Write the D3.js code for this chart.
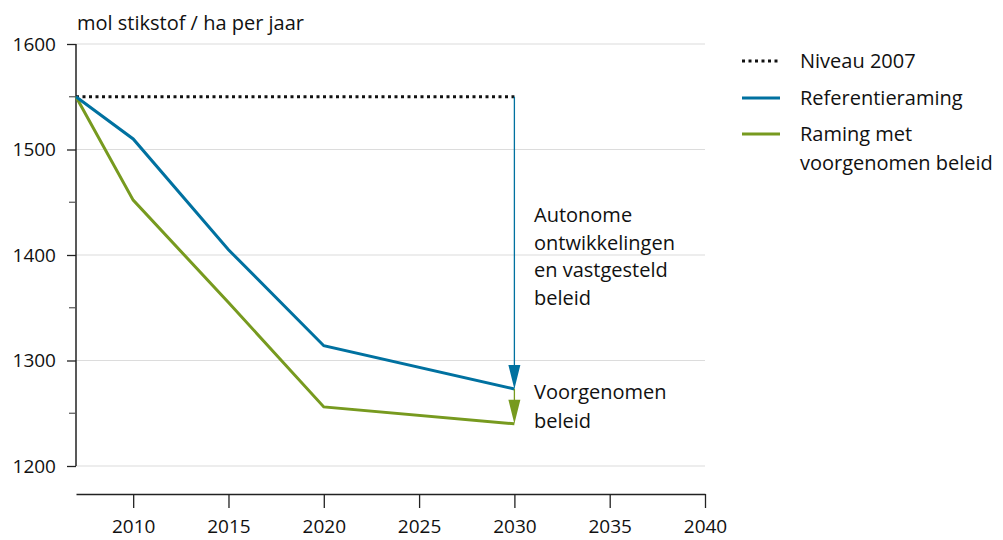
<!DOCTYPE html>
<html>
<head>
<meta charset="utf-8">
<script src="https://cdnjs.cloudflare.com/ajax/libs/d3/7.8.5/d3.min.js"></script>
<style>
  body { margin: 0; background: #fff; }
  svg text { font-family: "Open Sans", "Noto Sans", sans-serif; fill: #111; }
</style>
</head>
<body>
<div id="chart"></div>
<script>
// data
var years = [2007, 2010, 2015, 2020, 2030];
var referentie = [1550, 1510, 1405, 1314, 1273];
var voorgenomen = [1550, 1452, 1355, 1256, 1240];
var niveau2007 = 1550;
var niveauYears = [2007, 2030];
var yTicks = [1200, 1300, 1400, 1500, 1600];
var yMinorTicks = [1250, 1350, 1450, 1550];
var xTicks = [2010, 2015, 2020, 2025, 2030, 2035, 2040];
var legendItems = [
  {label: ["Niveau 2007"], color: "#111", dash: "3,3.5"},
  {label: ["Referentieraming"], color: "#0071a0", dash: null},
  {label: ["Raming met", "voorgenomen beleid"], color: "#779a1f", dash: null}
];
var blue = "#0071a0", green = "#779a1f";

var W = 1003, H = 540;
var margin = {top: 44, right: 298, bottom: 74, left: 76};
var width = W - margin.left - margin.right;
var height = H - margin.top - margin.bottom;

var svg = d3.select("#chart").append("svg").attr("width", W).attr("height", H);

var x = d3.scaleLinear().domain([2007, 2040]).range([margin.left, margin.left + width]);
var y = d3.scaleLinear().domain([1200, 1600]).range([margin.top + height, margin.top]);

// gridlines
svg.append("g").selectAll("line").data(yTicks).enter().append("line")
  .attr("x1", x(2007)).attr("x2", x(2040))
  .attr("y1", function(d) { return y(d); }).attr("y2", function(d) { return y(d); })
  .attr("stroke", "#dcdcdc").attr("stroke-width", 1.2);

// y axis
var yAxis = d3.axisLeft(y).tickValues(yTicks).tickSize(9).tickPadding(11).tickFormat(d3.format("d"));
var gy = svg.append("g").attr("transform", "translate(" + x(2007) + ",0)").call(yAxis);
gy.select(".domain").attr("stroke", "#222").attr("stroke-width", 1.5).attr("d", "M0," + y(1600) + "V" + y(1200));
gy.selectAll(".tick line").attr("stroke", "#222").attr("stroke-width", 1.3);
gy.selectAll(".tick text").style("font-size", "19px").attr("fill", "#111");
svg.append("g").selectAll("line").data(yMinorTicks).enter().append("line")
  .attr("x1", x(2007) - 7).attr("x2", x(2007))
  .attr("y1", function(d) { return y(d); }).attr("y2", function(d) { return y(d); })
  .attr("stroke", "#555").attr("stroke-width", 1.2);

// x axis
var xAxis = d3.axisBottom(x).tickValues(xTicks).tickSize(14).tickPadding(12).tickSizeOuter(0).tickFormat(d3.format("d"));
var gx = svg.append("g").attr("transform", "translate(0," + (y(1200) + 28) + ")").call(xAxis);
gx.select(".domain").attr("stroke", "#222").attr("stroke-width", 1.5);
gx.selectAll(".tick line").attr("stroke", "#222").attr("stroke-width", 1.3);
gx.selectAll(".tick text").style("font-size", "19px").attr("fill", "#111");

// unit label
svg.append("text").attr("x", 77).attr("y", 30).style("font-size", "20px").text("mol stikstof / ha per jaar");

// series
var line = d3.line().x(function(d) { return x(d[0]); }).y(function(d) { return y(d[1]); });

svg.append("path").datum(niveauYears.map(function(yr) { return [yr, niveau2007]; }))
  .attr("d", line).attr("fill", "none").attr("stroke", "#111").attr("stroke-width", 3.2)
  .attr("stroke-dasharray", "3,3.5");

svg.append("path").datum(d3.zip(years, voorgenomen))
  .attr("d", line).attr("fill", "none").attr("stroke", green).attr("stroke-width", 3).attr("stroke-linejoin", "miter");

svg.append("path").datum(d3.zip(years, referentie))
  .attr("d", line).attr("fill", "none").attr("stroke", blue).attr("stroke-width", 3).attr("stroke-linejoin", "miter");

// arrows
function arrow(x0, yFrom, yTo, color, lw) {
  var headH = 24, headW = 6;
  svg.append("line").attr("x1", x0).attr("x2", x0).attr("y1", yFrom).attr("y2", yTo - headH + 2)
    .attr("stroke", color).attr("stroke-width", lw);
  svg.append("path")
    .attr("d", "M" + (x0 - headW) + "," + (yTo - headH) + "L" + (x0 + headW) + "," + (yTo - headH) + "L" + x0 + "," + yTo + "Z")
    .attr("fill", color);
}
var last = years.length - 1;
arrow(x(2030), y(niveau2007), y(referentie[last]), blue, 1.3);
arrow(x(2030), y(referentie[last]), y(voorgenomen[last]), green, 1.3);

// annotations
function multiText(lines, tx, ty, lh) {
  var t = svg.append("text").attr("x", tx).attr("y", ty).style("font-size", "20px");
  lines.forEach(function(l, i) {
    t.append("tspan").attr("x", tx).attr("dy", i === 0 ? 0 : lh).text(l);
  });
}
multiText(["Autonome", "ontwikkelingen", "en vastgesteld", "beleid"], 534, 222, 27.7);
multiText(["Voorgenomen", "beleid"], 534, 399, 28.5);

// legend
var lg = svg.append("g");
var legendY = [61, 98, 134];
legendItems.forEach(function(item, i) {
  var ly = legendY[i];
  lg.append("line").attr("x1", 742).attr("x2", 780).attr("y1", ly).attr("y2", ly)
    .attr("stroke", item.color).attr("stroke-width", 3.2)
    .attr("stroke-dasharray", item.dash);
  var t = lg.append("text").attr("x", 800).attr("y", ly + 7).style("font-size", "20px");
  item.label.forEach(function(l, j) {
    t.append("tspan").attr("x", 800).attr("dy", j === 0 ? 0 : 29).text(l);
  });
});
</script>
</body>
</html>
